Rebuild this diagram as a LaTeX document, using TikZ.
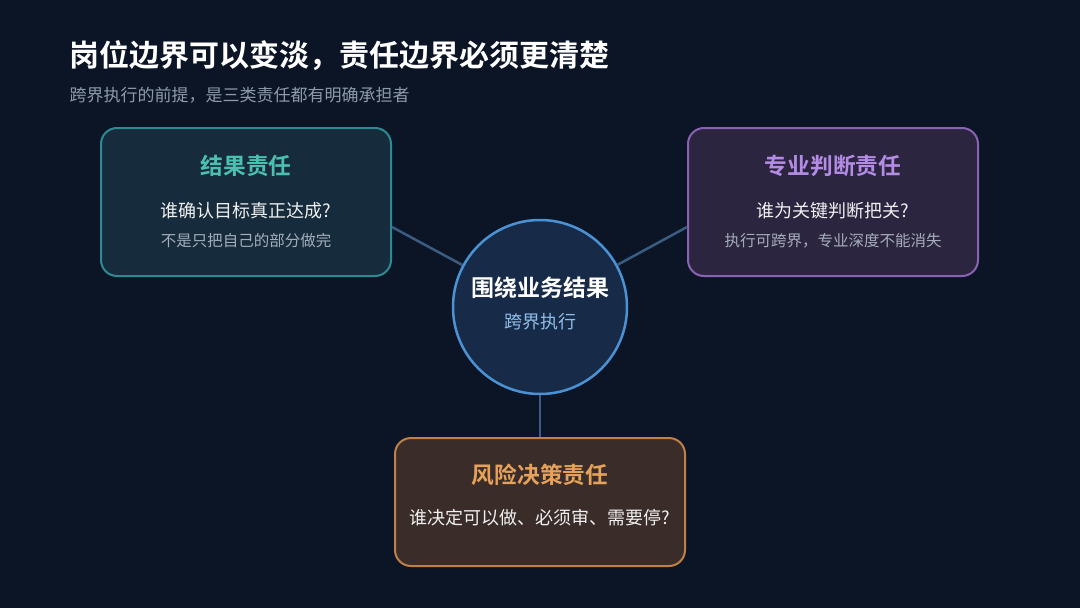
\documentclass[tikz,border=0pt]{standalone}
\usepackage{fontspec}
\setmainfont{Noto Sans CJK SC}[BoldFont={Noto Sans CJK SC Bold}]
\definecolor{bgnavy}{HTML}{0B1526}
\definecolor{linkblue}{HTML}{3B5C80}
\definecolor{hubfill}{HTML}{172B48}
\definecolor{hubedge}{HTML}{4A92D4}
\definecolor{hubsub}{HTML}{8FBDE8}
\definecolor{tealfill}{HTML}{162C3C}
\definecolor{tealedge}{HTML}{2E8A92}
\definecolor{tealtext}{HTML}{4CC0B0}
\definecolor{violetfill}{HTML}{2C2540}
\definecolor{violetedge}{HTML}{8A62B5}
\definecolor{violettext}{HTML}{B48CE6}
\definecolor{amberfill}{HTML}{3A2C29}
\definecolor{amberedge}{HTML}{C08048}
\definecolor{ambertext}{HTML}{E6A15A}
\definecolor{notegray}{HTML}{A4ADBA}
\definecolor{subgray}{HTML}{8E9AAB}
\begin{document}
\begin{tikzpicture}[x=1pt,y=-1pt,
  card/.style={draw,line width=2pt,rounded corners=16pt,minimum width=290pt},
  cardtitle/.style={font=\fontsize{22.7}{26}\selectfont\bfseries},
  question/.style={text=white!94!black,font=\fontsize{18}{21}\selectfont},
  note/.style={text=notegray,font=\fontsize{15.5}{18}\selectfont},
  link/.style={draw=linkblue,line width=2.5pt}]
	\fill[bgnavy](0,0) rectangle (1080,608);
	\useasboundingbox (0,0) rectangle (1080,608);
	% heading
	\node[anchor=west,text=white,font=\fontsize{30}{36}\selectfont\bfseries] (heading) at (66,56) {岗位边界可以变淡，责任边界必须更清楚};
	\node[anchor=west,text=subgray,font=\fontsize{17}{20}\selectfont] (subheading) at (66,95) {跨界执行的前提，是三类责任都有明确承担者};
	% cards
	\node[card,draw=tealedge,fill=tealfill,minimum height=148pt] (result) at (246,202) {};
	\node[card,draw=violetedge,fill=violetfill,minimum height=148pt] (expert) at (833,202) {};
	\node[card,draw=amberedge,fill=amberfill,minimum height=128pt] (risk) at (540,502) {};
	% hub
	\node[circle,draw=hubedge,fill=hubfill,line width=2.5pt,minimum size=174pt] (hub) at (540,307) {};
	\node[text=white,font=\fontsize{23}{27}\selectfont\bfseries] (hubtitle) at (540,288) {围绕业务结果};
	\node[text=hubsub,font=\fontsize{18}{21}\selectfont] (hubsub) at (540,322) {跨界执行};
	% links
	\draw[link] ([yshift=-25pt]result.east) -- (hub);
	\draw[link] ([yshift=-25pt]expert.west) -- (hub);
	\draw[link] (hub.south) -- (risk.north);
	% card texts
	\node[cardtitle,text=tealtext] (resulttitle) at (246,166) {结果责任};
	\node[question] (resultq) at (246,211) {谁确认目标真正达成?};
	\node[note] (resultnote) at (246,241) {不是只把自己的部分做完};
	\node[cardtitle,text=violettext] (experttitle) at (833,166) {专业判断责任};
	\node[question] (expertq) at (833,211) {谁为关键判断把关?};
	\node[note] (expertnote) at (833,241) {执行可跨界，专业深度不能消失};
	\node[cardtitle,text=ambertext] (risktitle) at (540,475) {风险决策责任};
	\node[question] (riskq) at (540,518) {谁决定可以做、必须审、需要停?};
\end{tikzpicture}
\end{document}
